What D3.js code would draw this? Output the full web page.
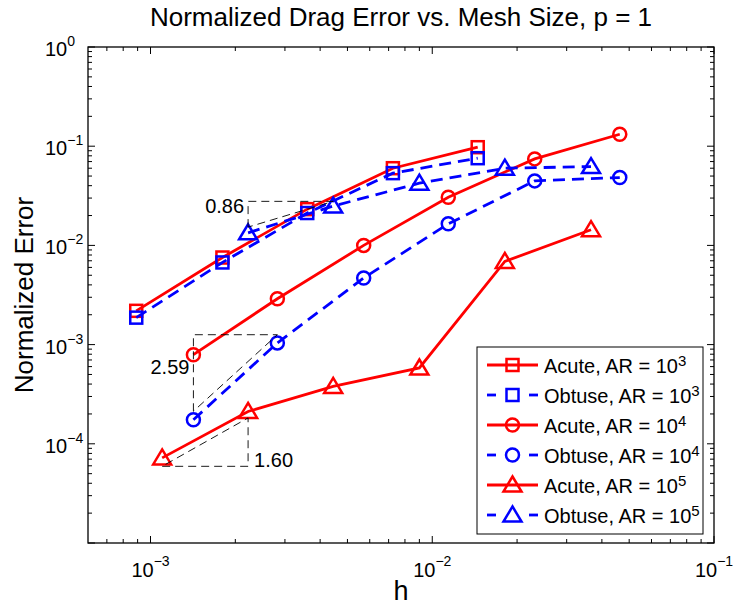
<!DOCTYPE html>
<html>
<head>
<meta charset="utf-8">
<script src="https://cdn.jsdelivr.net/npm/d3@7"></script>
<style>
  body { margin: 0; background: #fff; }
  text { font-family: "Liberation Sans", Arial, Helvetica, sans-serif; fill: #000; }
</style>
</head>
<body>
<div id="chart"></div>
<script>
// mesh sizes and normalized drag errors
var hAR3 = [8.9e-4, 1.8e-3, 3.6e-3, 7.25e-3, 1.45e-2];
var acuteAR3 = [2.19e-3, 7.55e-3, 2.32e-2, 6.0e-2, 9.77e-2];
var obtuseAR3 = [1.87e-3, 6.73e-3, 2.12e-2, 5.35e-2, 7.57e-2];

var hAR4 = [1.42e-3, 2.82e-3, 5.71e-3, 1.14e-2, 2.31e-2, 4.63e-2];
var acuteAR4 = [7.91e-4, 2.90e-3, 1.00e-2, 3.06e-2, 7.45e-2, 0.132];
var obtuseAR4 = [1.75e-4, 1.04e-3, 4.69e-3, 1.65e-2, 4.47e-2, 4.83e-2];

var hAcuteAR5 = [1.1e-3, 2.22e-3, 4.45e-3, 9.0e-3, 1.81e-2, 3.66e-2];
var acuteAR5 = [7.21e-5, 2.12e-4, 3.79e-4, 5.81e-4, 6.89e-3, 1.44e-2];
var hObtuseAR5 = [2.22e-3, 4.45e-3, 9.0e-3, 1.81e-2, 3.66e-2];
var obtuseAR5 = [1.34e-2, 2.49e-2, 4.24e-2, 6.0e-2, 6.23e-2];

var seriesNames = ["Acute, AR = 10|3", "Obtuse, AR = 10|3", "Acute, AR = 10|4",
                   "Obtuse, AR = 10|4", "Acute, AR = 10|5", "Obtuse, AR = 10|5"];

// slope triangles: corner point (h, err), other h end, slope, label
var slopeH0 = [2.22e-3, 1.42e-3, 1.1e-3];
var slopeH1 = [4.45e-3, 2.82e-3, 2.22e-3];
var slopeCornerErr = [2.78e-2, 1.258e-3, 5.93e-5];
var slopeValues = [0.86, 2.59, 1.60];
var slopeLabels = ["0.86", "2.59", "1.60"];
var slopeLabelErr = [2.5e-2, 6.0e-4, 6.9e-5];

var xTickExps = [-3, -2, -1];
var yTickExps = [0, -1, -2, -3, -4, -5];
var yLabelExps = [0, -1, -2, -3, -4];

var width = 740, height = 607;
var margin = {top: 47, right: 26, bottom: 64, left: 88};

var x = d3.scaleLog().domain([6e-4, 0.1]).range([margin.left, width - margin.right]);
var y = d3.scaleLog().domain([1e-5, 1]).range([height - margin.bottom, margin.top]);

var svg = d3.select("#chart").append("svg")
  .attr("width", width)
  .attr("height", height);

var x0 = x.range()[0], x1 = x.range()[1],
    yb = y.range()[0], yt = y.range()[1];

// ticks, inward on all four sides
var majorLen = 7, minorLen = 4;
var ticks = svg.append("g").attr("stroke", "#000").attr("stroke-width", 1);

function minorVals(lo, hi) {
  var out = [];
  for (var e = Math.floor(Math.log10(lo)); e < Math.ceil(Math.log10(hi)); e++) {
    for (var m = 2; m <= 9; m++) {
      var v = m * Math.pow(10, e);
      if (v > lo * 1.0001 && v < hi * 0.9999) out.push(v);
    }
  }
  return out;
}

xTickExps.forEach(function(e) {
  var px = x(Math.pow(10, e));
  ticks.append("line").attr("x1", px).attr("x2", px).attr("y1", yb).attr("y2", yb - majorLen);
  ticks.append("line").attr("x1", px).attr("x2", px).attr("y1", yt).attr("y2", yt + majorLen);
});
minorVals(6e-4, 0.1).forEach(function(v) {
  var px = x(v);
  ticks.append("line").attr("x1", px).attr("x2", px).attr("y1", yb).attr("y2", yb - minorLen);
  ticks.append("line").attr("x1", px).attr("x2", px).attr("y1", yt).attr("y2", yt + minorLen);
});
yTickExps.forEach(function(e) {
  var py = y(Math.pow(10, e));
  ticks.append("line").attr("y1", py).attr("y2", py).attr("x1", x0).attr("x2", x0 + majorLen);
  ticks.append("line").attr("y1", py).attr("y2", py).attr("x1", x1).attr("x2", x1 - majorLen);
});
minorVals(1e-5, 1).forEach(function(v) {
  var py = y(v);
  ticks.append("line").attr("y1", py).attr("y2", py).attr("x1", x0).attr("x2", x0 + minorLen);
  ticks.append("line").attr("y1", py).attr("y2", py).attr("x1", x1).attr("x2", x1 - minorLen);
});

// box
svg.append("rect")
  .attr("x", x0).attr("y", yt)
  .attr("width", x1 - x0).attr("height", yb - yt)
  .attr("fill", "none").attr("stroke", "#000").attr("stroke-width", 1.3);

// tick labels
function powLabel(sel, exp, supSize, supDy) {
  sel.append("tspan").text("10");
  sel.append("tspan").attr("font-size", supSize).attr("dy", supDy)
    .text(exp < 0 ? "\u2212" + (-exp) : String(exp));
}

xTickExps.forEach(function(e) {
  var t = svg.append("text")
    .attr("x", x(Math.pow(10, e)))
    .attr("y", 577)
    .attr("text-anchor", "middle")
    .attr("font-size", 20);
  powLabel(t, e, 14, -11);
});
yLabelExps.forEach(function(e) {
  var t = svg.append("text")
    .attr("x", 45)
    .attr("y", y(Math.pow(10, e)) + 9)
    .attr("font-size", 20);
  powLabel(t, e, 14, -10);
});

// title and axis labels
svg.append("text")
  .attr("x", (x0 + x1) / 2).attr("y", 26)
  .attr("text-anchor", "middle").attr("font-size", 26)
  .text("Normalized Drag Error vs. Mesh Size, p = 1");

svg.append("text")
  .attr("x", (x0 + x1) / 2).attr("y", 600)
  .attr("text-anchor", "middle").attr("font-size", 27)
  .text("h");

svg.append("text")
  .attr("transform", "translate(33," + ((yt + yb) / 2) + ") rotate(-90)")
  .attr("text-anchor", "middle").attr("font-size", 26)
  .text("Normalized Error");

// series
var series = [
  {h: hAR3, e: acuteAR3, color: "#ff0000", dash: null, marker: "square"},
  {h: hAR3, e: obtuseAR3, color: "#0000ff", dash: "12,7", marker: "square"},
  {h: hAR4, e: acuteAR4, color: "#ff0000", dash: null, marker: "circle"},
  {h: hAR4, e: obtuseAR4, color: "#0000ff", dash: "12,7", marker: "circle"},
  {h: hAcuteAR5, e: acuteAR5, color: "#ff0000", dash: null, marker: "triangle"},
  {h: hObtuseAR5, e: obtuseAR5, color: "#0000ff", dash: "12,7", marker: "triangle"}
];

function drawMarker(g, shape, cx, cy, color) {
  var m;
  if (shape === "square") {
    m = g.append("rect").attr("x", cx - 6).attr("y", cy - 6).attr("width", 12).attr("height", 12);
  } else if (shape === "circle") {
    m = g.append("circle").attr("cx", cx).attr("cy", cy).attr("r", 6.5);
  } else {
    m = g.append("path").attr("d", "M" + cx + "," + (cy - 8.5) + "L" + (cx + 9) + "," + (cy + 6.5) +
      "L" + (cx - 9) + "," + (cy + 6.5) + "Z");
  }
  m.attr("fill", "none").attr("stroke", color).attr("stroke-width", 2.5);
}

var line = d3.line()
  .x(function(d) { return x(d[0]); })
  .y(function(d) { return y(d[1]); });

series.forEach(function(s) {
  var pts = s.h.map(function(h, i) { return [h, s.e[i]]; });
  var g = svg.append("g");
  g.append("path")
    .datum(pts)
    .attr("d", line)
    .attr("fill", "none")
    .attr("stroke", s.color)
    .attr("stroke-width", 2.8)
    .attr("stroke-dasharray", s.dash);
  pts.forEach(function(p) {
    drawMarker(g, s.marker, x(p[0]), y(p[1]), s.color);
  });
});

// slope triangles
slopeValues.forEach(function(k, i) {
  var ha = slopeH0[i], hb = slopeH1[i], ec = slopeCornerErr[i];
  var pts;
  if (i < 2) {
    // corner at upper left
    var eLow = ec / Math.pow(hb / ha, k);
    pts = [[ha, eLow], [ha, ec], [hb, ec], [ha, eLow]];
  } else {
    // corner at lower right
    var eHigh = ec * Math.pow(hb / ha, k);
    pts = [[ha, ec], [hb, ec], [hb, eHigh], [ha, ec]];
  }
  svg.append("path")
    .datum(pts)
    .attr("d", line)
    .attr("fill", "none")
    .attr("stroke", "#000")
    .attr("stroke-width", 0.9)
    .attr("stroke-dasharray", "8,5");
  var lbl = svg.append("text")
    .attr("font-size", 20)
    .attr("y", y(slopeLabelErr[i]) + 7)
    .text(slopeLabels[i]);
  if (i < 2) lbl.attr("x", x(ha) - 4).attr("text-anchor", "end");
  else lbl.attr("x", x(hb) + 6).attr("text-anchor", "start");
});

// legend
var legX = 477, legY = 347, legW = 226, legH = 187, rowH = 30;
var leg = svg.append("g");
leg.append("rect")
  .attr("x", legX).attr("y", legY).attr("width", legW).attr("height", legH)
  .attr("fill", "#fff").attr("stroke", "#000").attr("stroke-width", 1);

series.forEach(function(s, i) {
  var cy = legY + 18 + i * rowH;
  var g = leg.append("g");
  if (s.dash) {
    g.append("line").attr("x1", 487).attr("x2", 496).attr("y1", cy).attr("y2", cy)
      .attr("stroke", s.color).attr("stroke-width", 2.8);
    g.append("line").attr("x1", 529).attr("x2", 538).attr("y1", cy).attr("y2", cy)
      .attr("stroke", s.color).attr("stroke-width", 2.8);
  } else {
    g.append("line").attr("x1", 487).attr("x2", 538).attr("y1", cy).attr("y2", cy)
      .attr("stroke", s.color).attr("stroke-width", 2.8);
  }
  drawMarker(g, s.marker, 512.5, cy, s.color);
  var parts = seriesNames[i].split("|");
  var t = g.append("text").attr("x", 544).attr("y", cy + 8).attr("font-size", 20);
  t.append("tspan").text(parts[0]);
  t.append("tspan").attr("font-size", 15).attr("dy", -7).text(parts[1]);
});
</script>
</body>
</html>
